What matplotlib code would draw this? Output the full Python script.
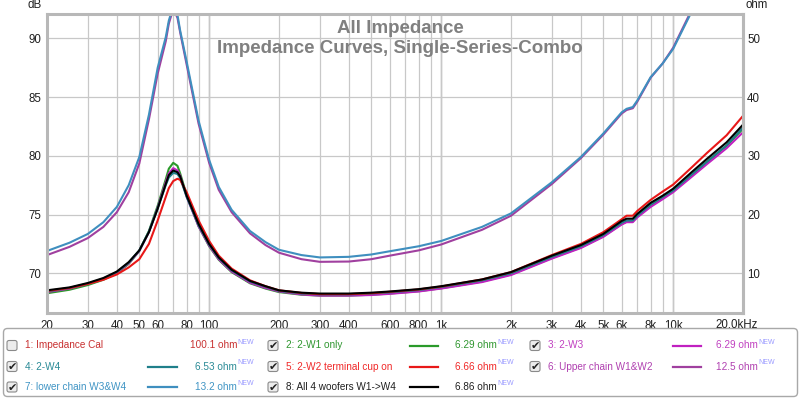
import matplotlib
matplotlib.use("Agg")
import matplotlib.pyplot as plt
from matplotlib.patches import FancyBboxPatch
from matplotlib.ticker import FixedLocator, LogLocator, NullFormatter

# impedance traces (ohm)
FREQ = [20, 25, 30, 35, 40, 45, 50, 55, 60, 65, 67, 70, 73, 75, 80, 90, 100,
        110, 125, 150, 175, 200, 250, 300, 400, 500, 600, 800, 1000, 1500,
        2000, 3000, 4000, 5000, 6000, 6300, 6700, 7000, 8000, 9000, 10000,
        12000, 14000, 17000, 20000]

w1 = [6.6, 7.2, 8.0, 8.9, 10.0, 11.6, 13.8, 17.2, 21.5, 26.0, 27.8, 28.8, 28.3,
      27.0, 23.3, 18.0, 14.6, 12.3, 10.2, 8.3, 7.4, 6.8, 6.35, 6.2, 6.2, 6.35,
      6.55, 6.95, 7.45, 8.6, 9.8, 12.6, 14.4, 16.3, 18.4, 18.8, 18.9, 19.7,
      21.5, 22.8, 24.0, 26.7, 29.0, 31.7, 34.6]
w3 = [6.8, 7.4, 8.2, 9.0, 10.1, 11.7, 13.8, 17.0, 21.2, 25.5, 27.0, 27.9, 27.5,
      26.6, 23.0, 18.0, 14.7, 12.4, 10.3, 8.4, 7.5, 6.9, 6.4, 6.2, 6.2, 6.3,
      6.5, 6.9, 7.4, 8.5, 9.7, 12.5, 14.3, 16.2, 18.3, 18.7, 18.7, 19.5, 21.3,
      22.6, 23.8, 26.4, 28.6, 31.3, 34.0]
w4 = [6.9, 7.5, 8.25, 9.1, 10.2, 11.8, 13.9, 17.1, 21.1, 25.0, 26.3, 27.1, 26.9,
      26.2, 23.0, 18.2, 14.9, 12.6, 10.5, 8.6, 7.7, 7.0, 6.55, 6.4, 6.4, 6.55,
      6.75, 7.15, 7.65, 8.8, 10.0, 12.8, 14.6, 16.5, 18.6, 19.0, 19.0, 19.8,
      21.7, 23.0, 24.1, 26.8, 29.0, 31.8, 34.8]
w2 = [7.0, 7.5, 8.2, 8.9, 9.8, 11.0, 12.4, 15.0, 19.0, 23.0, 24.5, 25.7, 26.1,
      25.9, 23.8, 19.0, 15.5, 13.0, 10.8, 8.8, 7.8, 7.1, 6.65, 6.45, 6.45, 6.6,
      6.85, 7.25, 7.75, 8.95, 10.2, 13.1, 15.0, 17.0, 19.2, 19.8, 19.8, 20.6,
      22.5, 23.9, 25.1, 28.0, 30.5, 33.5, 36.8]
upper = [13.1, 14.5, 16.0, 17.9, 20.4, 23.8, 28.7, 36.2, 44.0, 49.5, 52.5, 55.0,
         53.5, 51.0, 45.5, 35.5, 28.8, 24.2, 20.4, 16.8, 14.8, 13.5, 12.4,
         11.95, 12.0, 12.4, 13.0, 13.9, 14.9, 17.4, 19.8, 25.2, 29.6, 33.6,
         37.2, 37.8, 38.1, 39.2, 43.3, 45.7, 48.4, 54.8, 59.5, 64.5, 68.5]
lower = [13.8, 15.2, 16.7, 18.7, 21.3, 25.0, 29.8, 37.0, 45.0, 50.2, 53.0, 55.5,
         54.0, 51.3, 46.0, 36.0, 29.3, 24.7, 20.8, 17.2, 15.3, 14.0, 13.1, 12.7,
         12.8, 13.2, 13.75, 14.6, 15.5, 17.9, 20.2, 25.5, 29.8, 33.8, 37.4,
         38.0, 38.3, 39.4, 43.4, 45.7, 48.2, 54.5, 59.0, 64.0, 68.0]
all4 = [7.1, 7.6, 8.35, 9.2, 10.3, 11.9, 13.9, 17.0, 21.0, 25.2, 26.7, 27.5,
        27.2, 26.5, 23.2, 18.4, 15.0, 12.7, 10.6, 8.7, 7.8, 7.1, 6.7, 6.55,
        6.55, 6.7, 6.9, 7.3, 7.8, 8.95, 10.2, 13.0, 14.8, 16.7, 18.9, 19.3,
        19.3, 20.1, 22.0, 23.2, 24.4, 27.2, 29.5, 32.3, 35.3]

TRACES = [w1, w3, w4, w2, upper, lower, all4]
TRACE_COLORS = ["#2a9a2a", "#c020c0", "#1f7f8a", "#e81818", "#a0409f",
                "#3f8fbf", "#000000"]

OHM_TICKS = [10, 20, 30, 40, 50]
DB_LABELS = ["70", "75", "80", "85", "90"]
X_TICKS = [20, 30, 40, 50, 60, 80, 100, 200, 300, 400, 600, 800, 1000, 2000,
           3000, 4000, 5000, 6000, 8000, 10000]
X_LABELS = ["20", "30", "40", "50", "60", "80", "100", "200", "300", "400",
            "600", "800", "1k", "2k", "3k", "4k", "5k", "6k", "8k", "10k"]

LEG_LABELS = ["1: Impedance Cal", "2: 2-W1 only", "3: 2-W3", "4: 2-W4",
              "5: 2-W2 terminal cup on", "6: Upper chain W1&W2",
              "7: lower chain W3&W4", "8: All 4 woofers W1->W4"]
LEG_VALUES = ["100.1 ohm", "6.29 ohm", "6.29 ohm", "6.53 ohm", "6.66 ohm",
              "12.5 ohm", "13.2 ohm", "6.86 ohm"]
LEG_TEXT = ["#c83030", "#2f962f", "#c040c0", "#2a8a96", "#f02828", "#b040b0",
            "#3f94c4", "#202020"]
LEG_LINE = [None, "#2a9a2a", "#c020c0", "#1f7f8a", "#e81818", "#a0409f",
            "#3f8fbf", "#000000"]
LEG_CHECKED = [False, True, True, True, True, True, True, True]

FONT = "Liberation Sans"

fig = plt.figure(figsize=(8, 3.99), dpi=100)
ax = fig.add_axes([47 / 800, 1 - 313 / 399, 696 / 800, 299 / 399])

for y, c in zip(TRACES, TRACE_COLORS):
    ax.plot(FREQ, y, color=c, lw=1.5, solid_joinstyle="round")

ax.set_xscale("log")
ax.set_xlim(20, 20000)
ax.set_ylim(3.24, 54.14)

ax.xaxis.set_major_locator(FixedLocator(X_TICKS))
ax.set_xticklabels(X_LABELS)
ax.xaxis.set_minor_locator(LogLocator(base=10, subs=range(1, 10)))
ax.xaxis.set_minor_formatter(NullFormatter())
ax.grid(which="both", axis="x", color="#c8c8c8", lw=0.9)
ax.grid(which="major", axis="y", color="#c8c8c8", lw=0.9)
for d in (100, 1000, 10000):
    ax.axvline(d, color="#8c8c8c", lw=0.9, zorder=0.5)
ax.set_axisbelow(True)

ax.set_yticks(OHM_TICKS)
ax.set_yticklabels(DB_LABELS)
sec = ax.secondary_yaxis("right")
sec.set_yticks(OHM_TICKS)
sec.set_yticklabels([str(v) for v in OHM_TICKS])

for a in (ax, sec):
    a.tick_params(which="both", length=0, labelsize=8.3, colors="#202020")
    for lbl in a.get_xticklabels() + a.get_yticklabels():
        lbl.set_fontfamily(FONT)
ax.tick_params(axis="x", pad=5)
ax.tick_params(axis="y", pad=4)
sec.tick_params(pad=3)
for sp in list(ax.spines.values()) + list(sec.spines.values()):
    sp.set_color("#b8b8b8")
    sp.set_linewidth(2.2)

# overlay in pixel coords for the texts and legend panel
lay = fig.add_axes([0, 0, 1, 1])
lay.set_xlim(0, 800)
lay.set_ylim(399, 0)
lay.axis("off")
lay.patch.set_alpha(0)

lay.text(758, 325, "20.0kHz", ha="right", va="center", fontsize=8.3,
         family=FONT, color="#202020")
lay.text(42, 5, "dB", ha="right", va="center", fontsize=8.3, family=FONT,
         color="#202020")
lay.text(745, 5, "ohm", ha="left", va="center", fontsize=8.3, family=FONT,
         color="#202020")
lay.text(400, 33, "All Impedance", ha="center", va="baseline", fontsize=13.5,
         fontweight="bold", family=FONT, color="#808080")
lay.text(400, 53, "Impedance Curves, Single-Series-Combo", ha="center",
         va="baseline", fontsize=13.5, fontweight="bold", family=FONT,
         color="#808080")

# legend panel
lay.add_patch(FancyBboxPatch((3.5, 328.5), 794, 68, boxstyle="round,pad=0,rounding_size=4",
                             fc="white", ec="#a8a8a8", lw=1.0))
row_y = [345.5, 366.5, 387]
cb_x = [12, 273, 535]
lab_x = [25, 286, 548]
ln_x = [(148, 177), (410, 438), (673, 701)]
val_x = [237, 497, 758]
for i, lab in enumerate(LEG_LABELS):
    r, c = divmod(i, 3)
    y = row_y[r]
    lay.add_patch(FancyBboxPatch((cb_x[c] - 5, y - 5), 10, 10,
                                 boxstyle="round,pad=0,rounding_size=2",
                                 fc="#ececec", ec="#8a8a8a", lw=0.8))
    if LEG_CHECKED[i]:
        lay.text(cb_x[c] + 0.5, y + 0.5, "\u2714", ha="center", va="center",
                 fontsize=8, color="#202020", family="DejaVu Sans")
    lay.text(lab_x[c], y, lab, ha="left", va="center", fontsize=7.2,
             family=FONT, color=LEG_TEXT[i])
    if LEG_LINE[i] is not None:
        lay.plot(ln_x[c], [y, y], color=LEG_LINE[i], lw=1.6)
    lay.text(val_x[c], y, LEG_VALUES[i], ha="right", va="center", fontsize=7.2,
             family=FONT, color=LEG_TEXT[i])
    lay.text(val_x[c] + 0.5, y - 3.5, "NEW", ha="left", va="center",
             fontsize=5, family=FONT, color="#9a9aff")

fig.savefig("out.png", dpi=100)
